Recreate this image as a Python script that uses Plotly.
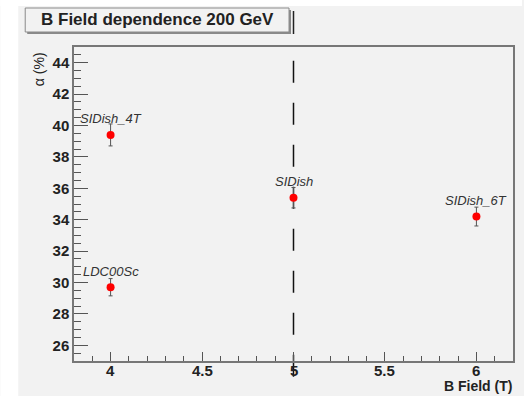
import plotly.graph_objects as go

# Data: resolution parameter alpha vs. magnetic field for each detector model
models = ["SIDish_4T", "LDC00Sc", "SIDish", "SIDish_6T"]
b_field = [4.0, 4.0, 5.0, 6.0]
alpha = [39.4, 29.7, 35.4, 34.2]
alpha_err = [0.7, 0.55, 0.65, 0.6]
nominal_field = 5.0
nominal_line_span = [24.0, 45.0]  # in alpha units

x_ticks = [4.0, 4.5, 5.0, 5.5, 6.0]
x_tick_labels = ["4", "4.5", "5", "5.5", "6"]

x_range = [3.8, 6.2]
y_range = [25, 45]

W, H = 524, 396
ML, MR, MT, MB = 74, 9, 47, 35
PW, PH = W - ML - MR, H - MT - MB

def px(x):
    return (x - ML) / PW

def py(y):
    return (H - MB - y) / PH

def yfrac(v):
    return (v - y_range[0]) / (y_range[1] - y_range[0])

GREY_BG = "#f2f2f2"
FONT = "Liberation Sans"
TICK_FONT = dict(family=FONT, size=15, weight="bold", color="#222222")

fig = go.Figure()

fig.add_trace(go.Scatter(
    x=b_field, y=alpha,
    mode="markers",
    marker=dict(color="#ff0000", size=8),
    error_y=dict(type="data", array=alpha_err, visible=True,
                 color="#555555", thickness=1, width=2),
    showlegend=False, hoverinfo="x+y",
))

annotations = []
for name, xv, yv in zip(models, b_field, alpha):
    annotations.append(dict(
        x=xv, y=yv, xref="x", yref="y", text=name, showarrow=False,
        yshift=16, xanchor="center", yanchor="middle",
        font=dict(family=FONT, size=13, style="italic", color="#333333"),
    ))

# x tick labels sit close under the axis
for xv, lab in zip(x_ticks, x_tick_labels):
    annotations.append(dict(
        x=xv, y=0, xref="x", yref="paper", text=lab, showarrow=False,
        yshift=-9.5, xanchor="center", yanchor="middle", font=TICK_FONT,
        borderpad=0,
    ))

# Title text
annotations.append(dict(
    x=px(158), y=py(20), xref="paper", yref="paper",
    text="B Field dependence 200 GeV", showarrow=False,
    xanchor="center", yanchor="middle",
    font=dict(family=FONT, size=17, weight="bold", color="#222222"),
))
# Axis titles
annotations.append(dict(
    x=1.0, y=py(386), xref="paper", yref="paper", text="B Field (T)",
    showarrow=False, xanchor="right", yanchor="middle", borderpad=0,
    font=dict(family=FONT, size=14, weight="bold", color="#222222"),
))
annotations.append(dict(
    x=px(39), y=py(50), xref="paper", yref="paper", text="α (%)",
    showarrow=False, xanchor="center", yanchor="top", textangle=-90,
    font=dict(family=FONT, size=14, color="#222222"),
))

shapes = [
    # white margins of the canvas
    dict(type="rect", xref="paper", yref="paper", x0=px(0), x1=px(W),
         y0=py(6), y1=py(0), fillcolor="white", line=dict(width=0), layer="below"),
    dict(type="rect", xref="paper", yref="paper", x0=px(0), x1=px(18),
         y0=py(H), y1=py(0), fillcolor="white", line=dict(width=0), layer="below"),
    # title box with shadow
    dict(type="rect", xref="paper", yref="paper", x0=px(27), x1=px(292),
         y0=py(34), y1=py(10), fillcolor="#8a8a8a", line=dict(width=0), layer="below"),
    dict(type="rect", xref="paper", yref="paper", x0=px(25), x1=px(290),
         y0=py(32), y1=py(8), fillcolor=GREY_BG, line=dict(color="#8a8a8a", width=1),
         layer="below"),
    dict(type="line", xref="paper", yref="paper", x0=px(294.5), x1=px(294.5),
         y0=py(34), y1=py(11), line=dict(color="#222222", width=1.5)),
    # nominal field marker, running down past the axis
    dict(type="line", xref="x", yref="paper", x0=nominal_field, x1=nominal_field,
         y0=yfrac(nominal_line_span[0]), y1=yfrac(nominal_line_span[1]),
         line=dict(color="#111111", width=1.5, dash="22px,20px"),
         layer="below"),
]

fig.update_layout(
    width=W, height=H,
    margin=dict(l=ML, r=MR, t=MT, b=MB, pad=0),
    paper_bgcolor=GREY_BG,
    plot_bgcolor="rgba(0,0,0,0)",
    showlegend=False,
    annotations=annotations,
    shapes=shapes,
    xaxis=dict(
        range=x_range, tickmode="array", tickvals=x_ticks, ticks="inside",
        ticklen=9, tickcolor="#555555", tickwidth=1, showticklabels=False,
        minor=dict(dtick=0.1, tick0=4, ticks="inside", ticklen=5, tickcolor="#555555"),
        showgrid=False, zeroline=False, showline=True, mirror=True,
        linecolor="#777777", linewidth=1.5,
    ),
    yaxis=dict(
        range=y_range, tick0=26, dtick=2, ticks="inside", ticklen=14,
        tickcolor="#555555", tickwidth=1,
        minor=dict(dtick=0.5, ticks="inside", ticklen=7, tickcolor="#555555"),
        showgrid=False, zeroline=False, showline=True, mirror=True,
        linecolor="#777777", linewidth=1.5,
        ticklabelstandoff=0,
        tickfont=TICK_FONT,
    ),
)

fig.write_html("out.html")
